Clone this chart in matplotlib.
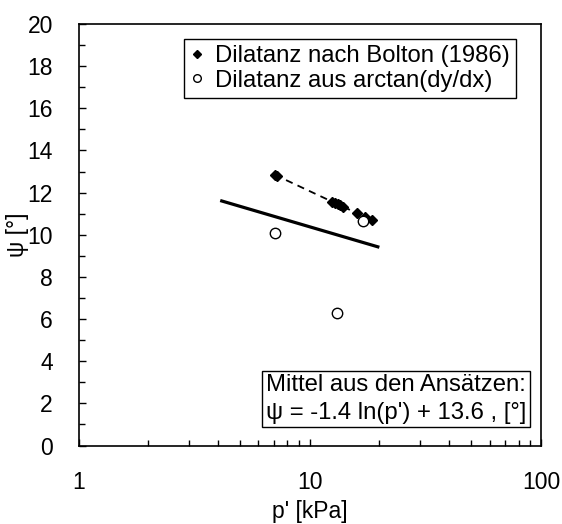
import matplotlib
matplotlib.use('Agg')
import matplotlib.pyplot as plt
from matplotlib.lines import Line2D
from matplotlib.ticker import MultipleLocator, LogLocator, NullFormatter
import numpy as np

plt.rcParams['font.family'] = ['Liberation Sans', 'DejaVu Sans']

# dilatancy after Bolton (1986)
p_bolton = [7.05, 7.2, 12.5, 12.9, 13.2, 13.5, 13.9, 16.0, 17.3, 18.5]
psi_bolton = [12.85, 12.8, 11.57, 11.5, 11.45, 11.4, 11.34, 11.02, 10.85, 10.7]

# dilatancy from arctan(dy/dx)
p_arctan = [7.1, 13.1, 17.0]
psi_arctan = [10.1, 6.3, 10.65]

# mean of both approaches: psi = a*ln(p') + b
mean_a = -1.4
mean_b = 13.6
p_mean = [4.1, 20.0]

fs = 16.5
fs_box = 17.2

fig = plt.figure(figsize=(5.62, 5.24), dpi=100)
ax = fig.add_axes([0.1397, 0.1498, 0.8229, 0.8044])

ax.plot(p_bolton, psi_bolton, color='black', lw=1.3, ls=(0, (4, 3)))
ax.plot(p_bolton, psi_bolton, 'D', color='black', ms=5.5, ls='none')
ax.plot(p_arctan, psi_arctan, 'o', mfc='white', mec='black', mew=1.0, ms=7.5, ls='none')

pm = np.array(p_mean)
ax.plot(pm, mean_a * np.log(pm) + mean_b, color='black', lw=2.3, solid_capstyle='butt')

ax.set_xscale('log')
ax.set_xlim(1, 100)
ax.set_ylim(0, 20)
ax.yaxis.set_major_locator(MultipleLocator(2))
ax.yaxis.set_minor_locator(MultipleLocator(1))
ax.xaxis.set_minor_locator(LogLocator(base=10, subs=np.arange(2, 10)))
ax.xaxis.set_minor_formatter(NullFormatter())
ax.set_xticks([1, 10, 100])
ax.set_xticklabels(['1', '10', '100'])

ax.tick_params(axis='both', which='both', direction='in', top=False, right=False,
               labelsize=fs, width=1)
ax.tick_params(axis='both', which='major', length=5)
ax.tick_params(axis='both', which='minor', length=4)
ax.tick_params(axis='y', which='major', pad=18.5)
ax.tick_params(axis='x', which='major', pad=18)
for s in ax.spines.values():
    s.set_linewidth(1.2)

ax.set_xlabel("p' [kPa]", fontsize=fs, labelpad=5)
ax.set_ylabel('ψ [°]', fontsize=fs, labelpad=-1)

handles = [
    Line2D([], [], marker='D', color='black', ls='none', ms=4),
    Line2D([], [], marker='o', mfc='white', mec='black', mew=1.0, ls='none', ms=5.5),
]
leg = ax.legend(handles, ['Dilatanz nach Bolton (1986)', 'Dilatanz aus arctan(dy/dx)'],
                loc='upper right', bbox_to_anchor=(0.945, 0.964), borderaxespad=0,
                fontsize=fs_box, frameon=True, fancybox=False, framealpha=1,
                edgecolor='black', handlelength=0.6, handletextpad=0.45,
                borderpad=0.25, labelspacing=0.1)
leg.get_frame().set_linewidth(1.0)

ax.text(0.405, 0.052, "Mittel aus den Ansätzen:\nψ = -1.4 ln(p') + 13.6 , [°]",
        transform=ax.transAxes, ha='left', va='bottom', fontsize=fs_box, linespacing=1.3,
        bbox=dict(boxstyle='square,pad=0.15', fc='white', ec='black', lw=1.0))

fig.savefig('out.png', dpi=100)
